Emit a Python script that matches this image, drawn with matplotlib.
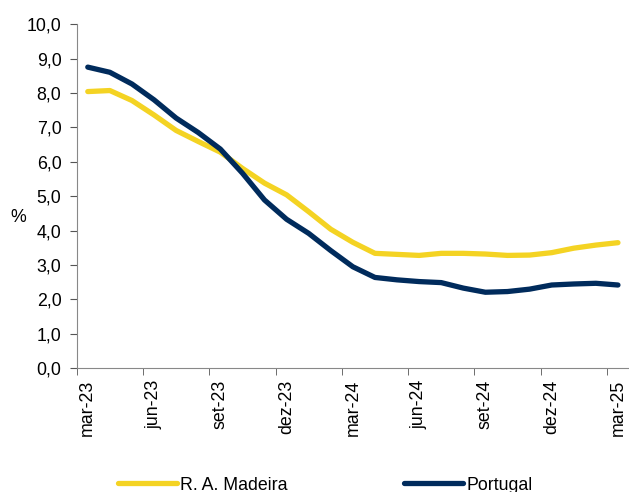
import matplotlib
matplotlib.use("Agg")
import matplotlib.pyplot as plt
import numpy as np
from matplotlib.ticker import FuncFormatter

plt.rcParams["font.family"] = ["Liberation Sans", "DejaVu Sans"]

months = ["mar-23", "abr-23", "mai-23", "jun-23", "jul-23", "ago-23", "set-23",
          "out-23", "nov-23", "dez-23", "jan-24", "fev-24", "mar-24", "abr-24",
          "mai-24", "jun-24", "jul-24", "ago-24", "set-24", "out-24", "nov-24",
          "dez-24", "jan-25", "fev-25", "mar-25"]
madeira = [8.04, 8.07, 7.78, 7.36, 6.91, 6.59, 6.28, 5.81, 5.38, 5.04, 4.55,
           4.04, 3.66, 3.34, 3.31, 3.28, 3.34, 3.34, 3.32, 3.28, 3.29, 3.36,
           3.49, 3.58, 3.65]
portugal = [8.75, 8.60, 8.26, 7.80, 7.27, 6.85, 6.37, 5.67, 4.89, 4.33, 3.92,
            3.42, 2.95, 2.64, 2.57, 2.52, 2.49, 2.33, 2.21, 2.23, 2.30, 2.42,
            2.45, 2.47, 2.42]

yellow = "#F4D323"
navy = "#002B5C"

fig = plt.figure(figsize=(6.29, 4.92), dpi=100)
ax = fig.add_axes([0.122, 0.2514, 0.878, 0.6996])

x = np.arange(len(months))
ax.plot(x, madeira, color=yellow, lw=3.8, solid_capstyle="round", label="R. A. Madeira")
ax.plot(x, portugal, color=navy, lw=3.8, solid_capstyle="round", label="Portugal")

ax.set_xlim(-0.5, len(months) - 0.5)
ax.set_ylim(0, 10)
ax.set_yticks(np.arange(0, 10.01, 1))
ax.yaxis.set_major_formatter(FuncFormatter(lambda v, p: f"{v:.1f}".replace(".", ",")))

ax.set_xticks(x[::3])
ax.set_xticklabels(months[::3], rotation=90)
ax.set_xticks(np.arange(-0.5, len(months) - 1, 3), minor=True)
ax.tick_params(axis="x", which="major", length=0, pad=8, labelsize=12.8)
ax.tick_params(axis="x", which="minor", length=5, color="#555555", direction="out")
ax.tick_params(axis="y", length=5, color="#555555", labelsize=12.8, pad=6)

for s in ["top", "right"]:
    ax.spines[s].set_visible(False)
for s in ["left", "bottom"]:
    ax.spines[s].set_color("#888888")

ax.set_ylabel("%", rotation=0, fontsize=12.8, va="center", ha="center")
ax.yaxis.set_label_coords(-0.106, 0.437)

fig.legend(loc="center left", bbox_to_anchor=(0.1876, 0.014), ncol=2,
           frameon=False, fontsize=12.8, handlelength=3.3, handletextpad=0.2,
           columnspacing=6.55, borderpad=0, borderaxespad=0)

fig.savefig("out.png", dpi=100)
